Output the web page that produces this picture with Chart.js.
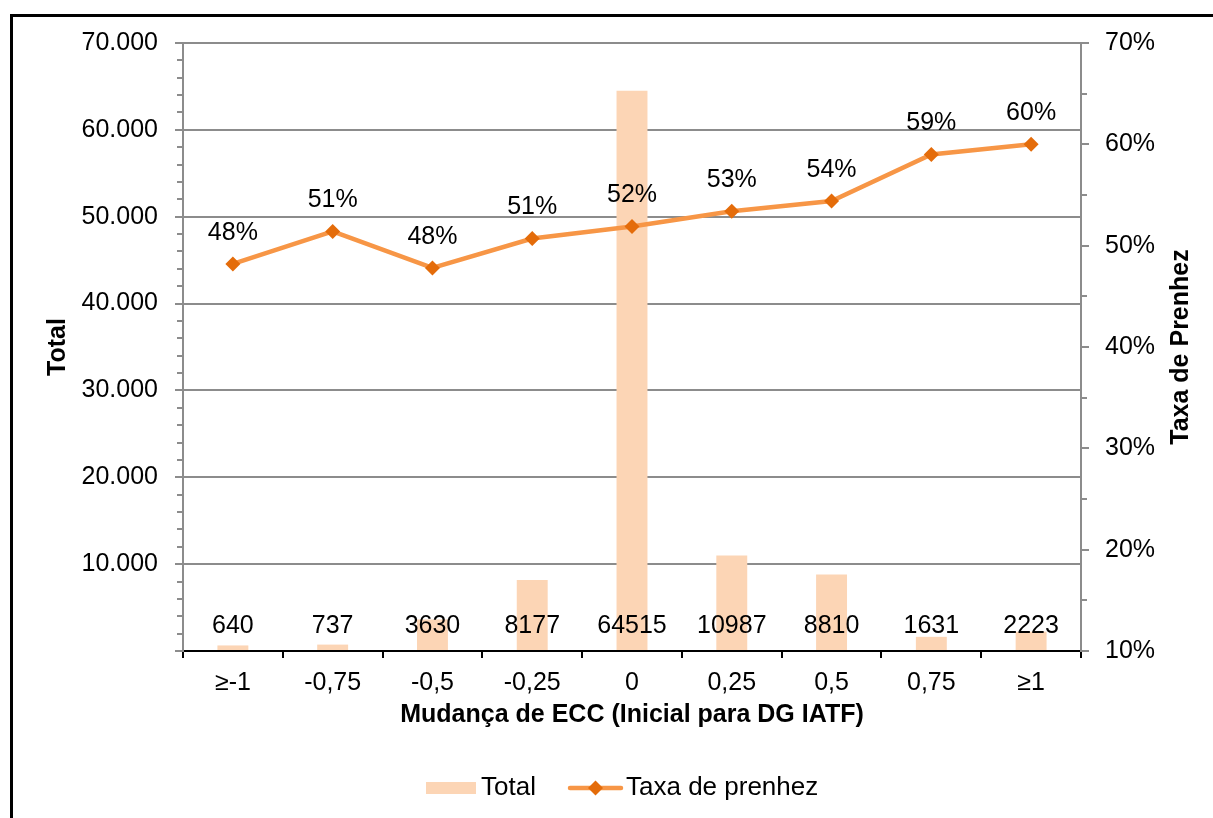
<!DOCTYPE html>
<html><head><meta charset="utf-8">
<script src="https://cdn.jsdelivr.net/npm/chart.js@4.4.0/dist/chart.umd.min.js"></script>
<style>
html,body{margin:0;padding:0;background:#fff;overflow:hidden}
#wrap{position:relative;width:1213px;height:818px}
#frame{position:absolute;left:10px;top:14px;width:1300px;height:900px;border:3px solid #000;box-sizing:border-box}
canvas{position:absolute;left:0;top:0}
</style></head><body>
<div id="wrap"><div id="frame"></div><canvas id="c" width="1213" height="818"></canvas></div>
<script>
const categories = ['≥-1','-0,75','-0,5','-0,25','0','0,25','0,5','0,75','≥1'];
const totals = [640, 737, 3630, 8177, 64515, 10987, 8810, 1631, 2223];
const rates = [48.2, 51.4, 47.8, 50.7, 51.9, 53.4, 54.4, 59.0, 60.0];
const barLabel = 'Total';
const lineLabel = 'Taxa de prenhez';
const xTitle = 'Mudança de ECC (Inicial para DG IATF)';
const yTitle = 'Total';
const y1Title = 'Taxa de Prenhez';

const FONT = "'Liberation Sans', Arial, sans-serif";
const BAR_COLOR = '#FCD5B5';
const LINE_COLOR = '#F79646';
const POINT_COLOR = '#E46C0A';
const GRID = '#8C8C8C';

function fmtThousands(v){
  return String(v).replace(/\B(?=(\d{3})+(?!\d))/g, '.');
}

const decor = {
  id: 'decor',
  afterDatasetsDraw(chart){
    const ctx = chart.ctx;
    const y = chart.scales.y, y1 = chart.scales.y1;
    const area = chart.chartArea;
    ctx.save();
    ctx.strokeStyle = GRID; ctx.lineWidth = 2;
    for (let v = 0; v <= 70000; v += 2000) {
      const py = Math.round(y.getPixelForValue(v));
      const major = v % 10000 === 0;
      ctx.beginPath();
      ctx.moveTo(area.left - (major ? 8 : 6), py);
      ctx.lineTo(area.left, py);
      ctx.stroke();
    }
    for (let v = 10; v <= 70; v += 5) {
      const py = Math.round(y1.getPixelForValue(v));
      const major = v % 10 === 0;
      ctx.beginPath();
      ctx.moveTo(area.right, py);
      ctx.lineTo(area.right + (major ? 8 : 6), py);
      ctx.stroke();
    }
    ctx.fillStyle = '#000';
    ctx.font = '25px ' + FONT;
    ctx.textAlign = 'center'; ctx.textBaseline = 'middle';
    const barMeta = chart.getDatasetMeta(0);
    barMeta.data.forEach((el, i) => {
      ctx.fillText(String(totals[i]), el.x, area.bottom - 25);
    });
    const lineMeta = chart.getDatasetMeta(1);
    lineMeta.data.forEach((el, i) => {
      ctx.fillText(Math.round(rates[i]) + '%', el.x, el.y - 31);
    });
    ctx.restore();
  },
  afterDraw(chart){
    const ctx = chart.ctx;
    const area = chart.chartArea;
    ctx.save();
    ctx.fillStyle = '#000';
    ctx.font = 'bold 25px ' + FONT;
    ctx.textAlign = 'center'; ctx.textBaseline = 'middle';
    const cy = (area.top + area.bottom) / 2;
    ctx.fillText(xTitle, (area.left + area.right) / 2, 715);
    ctx.save(); ctx.translate(58, cy); ctx.rotate(-Math.PI/2); ctx.fillText(yTitle, 0, 0); ctx.restore();
    ctx.save(); ctx.translate(1181, cy); ctx.rotate(-Math.PI/2); ctx.fillText(y1Title, 0, 0); ctx.restore();
    const ly = 788;
    ctx.fillStyle = BAR_COLOR;
    ctx.fillRect(426, ly - 6, 50, 12);
    ctx.fillStyle = '#000';
    ctx.font = '26px ' + FONT;
    ctx.textAlign = 'left';
    ctx.fillText(barLabel, 481, ly);
    ctx.strokeStyle = LINE_COLOR; ctx.lineWidth = 4.5; ctx.lineCap = 'round';
    ctx.beginPath(); ctx.moveTo(570, ly); ctx.lineTo(621, ly); ctx.stroke();
    ctx.fillStyle = POINT_COLOR;
    ctx.beginPath();
    ctx.moveTo(595.5 - 7.5, ly); ctx.lineTo(595.5, ly - 7.5); ctx.lineTo(595.5 + 7.5, ly); ctx.lineTo(595.5, ly + 7.5);
    ctx.closePath(); ctx.fill();
    ctx.fillStyle = '#000';
    ctx.fillText(lineLabel, 626, ly);
    ctx.restore();
  }
};

new Chart(document.getElementById('c'), {
  data: {
    labels: categories,
    datasets: [
      { type: 'bar', label: barLabel, data: totals, yAxisID: 'y', backgroundColor: BAR_COLOR,
        barPercentage: 0.31, categoryPercentage: 1, order: 2 },
      { type: 'line', label: lineLabel, data: rates, yAxisID: 'y1', borderColor: LINE_COLOR, borderWidth: 4.5,
        pointStyle: 'rectRot', pointRadius: 7.5, pointBackgroundColor: POINT_COLOR, pointBorderWidth: 0,
        pointBorderColor: POINT_COLOR, tension: 0, order: 1 }
    ]
  },
  options: {
    responsive: false, animation: false, devicePixelRatio: 1,
    layout: { padding: { top: 43, left: 0, right: 0, bottom: 0 } },
    plugins: { legend: { display: false }, tooltip: { enabled: false } },
    scales: {
      x: {
        type: 'category', offset: true,
        grid: { display: true, drawOnChartArea: false, drawTicks: true, tickLength: 7, tickColor: '#000', tickWidth: 2, lineWidth: 2, color: '#000', offset: true },
        border: { display: true, color: '#000', width: 2 },
        ticks: { color: '#000', font: { family: FONT, size: 25 }, padding: 10, autoSkip: false, maxRotation: 0 },
        afterFit(s){ s.height = 167; }
      },
      y: {
        position: 'left', min: 0, max: 70000,
        ticks: { stepSize: 10000, color: '#000', font: { family: FONT, size: 25 }, padding: 25,
          callback: v => v === 0 ? '' : fmtThousands(v) },
        grid: { color: GRID, lineWidth: 2, drawTicks: false },
        border: { display: true, color: GRID, width: 2 },
        afterFit(s){ s.width = 183; }
      },
      y1: {
        position: 'right', min: 10, max: 70,
        ticks: { stepSize: 10, color: '#000', font: { family: FONT, size: 25 }, padding: 24,
          callback: v => v + '%' },
        grid: { drawOnChartArea: false, drawTicks: false },
        border: { display: true, color: GRID, width: 2 },
        afterFit(s){ s.width = 132; }
      }
    }
  },
  plugins: [decor]
});
</script>
</body></html>
